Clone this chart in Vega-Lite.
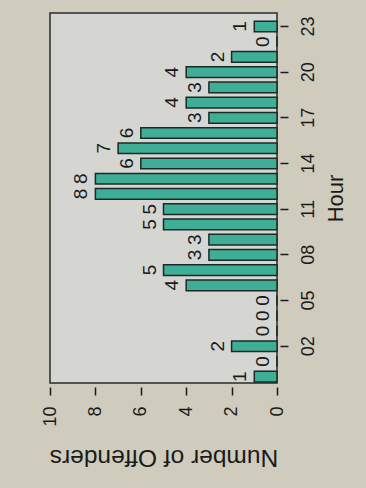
{
  "$schema": "https://vega.github.io/schema/vega-lite/v6.json",
  "width": 227,
  "height": 370,
  "autosize": {"type": "none"},
  "padding": {"left": 50, "top": 13, "right": 89, "bottom": 105},
  "background": "#cfcbbd",
  "config": {
    "view": {"fill": "#d5d5d1", "stroke": "#2b2b2b", "strokeWidth": 1.5},
    "font": "Liberation Sans"
  },
  "data": {
    "values": [
      {"hour": "00", "offenders": 1},
      {"hour": "01", "offenders": 0},
      {"hour": "02", "offenders": 2},
      {"hour": "03", "offenders": 0},
      {"hour": "04", "offenders": 0},
      {"hour": "05", "offenders": 0},
      {"hour": "06", "offenders": 4},
      {"hour": "07", "offenders": 5},
      {"hour": "08", "offenders": 3},
      {"hour": "09", "offenders": 3},
      {"hour": "10", "offenders": 5},
      {"hour": "11", "offenders": 5},
      {"hour": "12", "offenders": 8},
      {"hour": "13", "offenders": 8},
      {"hour": "14", "offenders": 6},
      {"hour": "15", "offenders": 7},
      {"hour": "16", "offenders": 6},
      {"hour": "17", "offenders": 3},
      {"hour": "18", "offenders": 4},
      {"hour": "19", "offenders": 3},
      {"hour": "20", "offenders": 4},
      {"hour": "21", "offenders": 2},
      {"hour": "22", "offenders": 0},
      {"hour": "23", "offenders": 1}
    ]
  },
  "encoding": {
    "y": {
      "field": "hour",
      "type": "nominal",
      "sort": "descending",
      "scale": {"paddingInner": 0.3, "paddingOuter": 0.3, "align": 0.89},
      "axis": {
        "orient": "right",
        "title": "Hour",
        "values": ["02", "05", "08", "11", "14", "17", "20", "23"],
        "labelAngle": 270,
        "labelAlign": "center",
        "labelBaseline": "top",
        "labelFontSize": 18,
        "labelColor": "#1a1a1a",
        "labelPadding": 11,
        "domain": false,
        "offset": 3,
        "tickSize": 8,
        "tickColor": "#1a1a1a",
        "tickWidth": 1.5,
        "titleAngle": 270,
        "titleBaseline": "top",
        "titleFontSize": 22,
        "titleFontWeight": "normal",
        "titleColor": "#1a1a1a",
        "titlePadding": 8
      }
    },
    "x": {
      "field": "offenders",
      "type": "quantitative",
      "scale": {"domain": [0, 10], "reverse": true, "nice": false},
      "axis": {
        "orient": "bottom",
        "title": "Number of Offenders",
        "values": [0, 2, 4, 6, 8, 10],
        "grid": false,
        "domain": false,
        "offset": 4,
        "tickSize": 8,
        "tickColor": "#1a1a1a",
        "tickWidth": 1.5,
        "labelAngle": 270,
        "labelFontSize": 18,
        "labelColor": "#1a1a1a",
        "labelPadding": 11,
        "titleAngle": 180,
        "titleBaseline": "bottom",
        "titleFontSize": 24.5,
        "titleFontWeight": "normal",
        "titleColor": "#1a1a1a",
        "titlePadding": 18
      }
    }
  },
  "layer": [
    {
      "mark": {"type": "bar", "fill": "#3fae96", "stroke": "#1c2a27", "strokeWidth": 1.5}
    },
    {
      "mark": {"type": "text", "angle": 270, "align": "center", "baseline": "bottom", "dy": -4, "fontSize": 19, "color": "#1a1a1a"},
      "encoding": {"text": {"field": "offenders", "type": "quantitative"}}
    }
  ]
}
